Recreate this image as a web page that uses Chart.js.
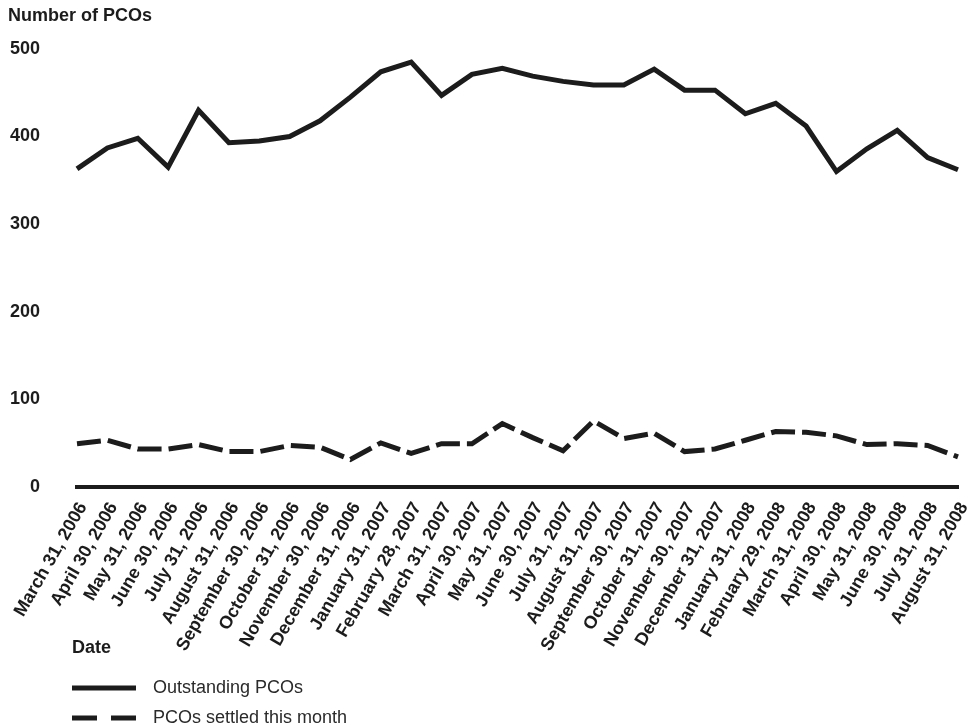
<!DOCTYPE html>
<html>
<head>
<meta charset="utf-8">
<title>Number of PCOs</title>
<script src="https://cdn.jsdelivr.net/npm/chart.js@4.4.1/dist/chart.umd.min.js"></script>
<style>
  html, body { margin: 0; padding: 0; background: #fff; }
  #wrap { width: 978px; height: 728px; position: relative; }
</style>
</head>
<body>
<div id="wrap"><canvas id="pcoChart"></canvas></div>
<script>
const dates = [
  'March 31, 2006', 'April 30, 2006', 'May 31, 2006', 'June 30, 2006',
  'July 31, 2006', 'August 31, 2006', 'September 30, 2006', 'October 31, 2006',
  'November 30, 2006', 'December 31, 2006', 'January 31, 2007', 'February 28, 2007',
  'March 31, 2007', 'April 30, 2007', 'May 31, 2007', 'June 30, 2007',
  'July 31, 2007', 'August 31, 2007', 'September 30, 2007', 'October 31, 2007',
  'November 30, 2007', 'December 31, 2007', 'January 31, 2008', 'February 29, 2008',
  'March 31, 2008', 'April 30, 2008', 'May 31, 2008', 'June 30, 2008',
  'July 31, 2008', 'August 31, 2008'
];

const outstanding = [
  363, 387, 398, 365, 430, 393, 395, 400, 418, 445,
  474, 485, 447, 471, 478, 469, 463, 459, 459, 477,
  453, 453, 426, 438, 412, 360, 386, 407, 376, 362
];

const settled = [
  49, 53, 43, 43, 48, 40, 40, 47, 45, 31,
  50, 38, 49, 49, 72, 56, 41, 75, 55, 61,
  40, 43, 53, 63, 62, 58, 48, 49, 47, 34
];

const yTicks = [0, 100, 200, 300, 400, 500];

const INK = '#1c1c1c';
const FONT = '"Liberation Sans", Arial, Helvetica, sans-serif';

// title, "Date" and the stacked legend are drawn by hand
const extrasPlugin = {
  id: 'pcoExtras',
  afterDraw(chart) {
    const { ctx, chartArea } = chart;
    ctx.save();
    ctx.fillStyle = INK;
    ctx.textBaseline = 'middle';
    ctx.font = 'bold 18px ' + FONT;
    ctx.fillText('Number of PCOs', 8, 16);
    ctx.fillText('Date', chartArea.left - 5, 648);

    ctx.font = '18px ' + FONT;
    ctx.fillStyle = '#2a2a2a';
    chart.data.datasets.forEach((ds, i) => {
      const y = 688 + i * 30;
      const x0 = chartArea.left - 5;
      ctx.beginPath();
      ctx.setLineDash(ds.borderDash && ds.borderDash.length ? [25, 14] : []);
      ctx.lineWidth = 5;
      ctx.strokeStyle = ds.borderColor;
      ctx.moveTo(x0, y);
      ctx.lineTo(x0 + 64, y);
      ctx.stroke();
      ctx.fillText(ds.label, x0 + 81, y);
    });
    ctx.restore();
  }
};

new Chart(document.getElementById('pcoChart'), {
  type: 'line',
  data: {
    labels: dates,
    datasets: [
      {
        label: 'Outstanding PCOs',
        data: outstanding,
        borderColor: INK,
        borderWidth: 5,
        borderJoinStyle: 'miter',
        pointRadius: 0,
        tension: 0,
        fill: false
      },
      {
        label: 'PCOs settled this month',
        data: settled,
        borderColor: INK,
        borderWidth: 5,
        borderDash: [24, 7],
        borderJoinStyle: 'miter',
        pointRadius: 0,
        tension: 0,
        fill: false
      }
    ]
  },
  options: {
    responsive: true,
    maintainAspectRatio: false,
    animation: false,
    layout: { padding: { top: 49, left: 10, right: 20, bottom: 61 } },
    plugins: {
      legend: { display: false },
      tooltip: { enabled: false }
    },
    scales: {
      x: {
        offset: false,
        afterFit(scale) {
          // let the slanted labels hang past the plot edges
          scale.paddingLeft = 0;
          scale.paddingRight = 0;
        },
        grid: { display: false, drawTicks: false },
        border: { display: true, color: INK, width: 4 },
        ticks: {
          color: INK,
          font: { family: FONT, size: 18, weight: 'bold' },
          minRotation: 60,
          maxRotation: 60,
          autoSkip: false,
          labelOffset: 6,
          padding: 12
        }
      },
      y: {
        min: 0,
        max: 500,
        afterBuildTicks(scale) {
          scale.ticks = yTicks.map(v => ({ value: v }));
        },
        afterFit(scale) {
          // padding is only wanted between labels and plot
          scale.width = 67;
        },
        grid: { display: false, drawTicks: false },
        border: { display: false },
        ticks: {
          color: INK,
          font: { family: FONT, size: 18, weight: 'bold' },
          padding: 37
        }
      }
    }
  },
  plugins: [extrasPlugin]
});
</script>
</body>
</html>
